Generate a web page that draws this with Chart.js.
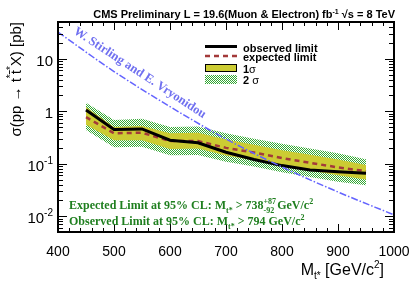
<!DOCTYPE html>
<html>
<head>
<meta charset="utf-8">
<script src="https://cdn.jsdelivr.net/npm/chart.js@4.4.1/dist/chart.umd.min.js"></script>
<style>
html, body { margin: 0; padding: 0; background: #fff; }
#wrap { width: 415px; height: 281px; }
</style>
</head>
<body>
<div id="wrap"><canvas id="c" width="415" height="281"></canvas></div>
<script>
// t* pair limit, mass in GeV/c2, cross section in pb
const masses = [450, 500, 550, 600, 650, 700, 750, 800, 850, 900, 950];
const observed = [1.05, 0.45, 0.46, 0.28, 0.25, 0.165, 0.12, 0.092, 0.076, 0.070, 0.066];
const expected = [0.77, 0.38, 0.39, 0.27, 0.27, 0.20, 0.163, 0.128, 0.104, 0.085, 0.072];
const sigma1Up = [1.2, 0.50, 0.52, 0.38, 0.39, 0.29, 0.23, 0.18, 0.148, 0.12, 0.094];
const sigma1Down = [0.55, 0.28, 0.28, 0.19, 0.195, 0.144, 0.116, 0.091, 0.074, 0.060, 0.050];
const sigma2Up = [1.45, 0.68, 0.72, 0.50, 0.51, 0.38, 0.30, 0.24, 0.195, 0.158, 0.121];
const sigma2Down = [0.44, 0.205, 0.21, 0.145, 0.147, 0.109, 0.088, 0.069, 0.056, 0.0455, 0.039];
// theory (W. Stirling and E. Vryonidou)
const theoryMass = [400, 500, 600, 700, 800, 900, 1000];
const theoryXsec = [32, 5.7, 1.22, 0.295, 0.0865, 0.0289, 0.0106];
const xTicks = [400, 500, 600, 700, 800, 900, 1000];
const yDecades = [-2, -1, 0, 1];

const SANS = '"Liberation Sans", Arial, Helvetica, sans-serif';
const SERIF = '"Liberation Serif", "Times New Roman", serif';
const GREEN_TXT = '#1f7f1f';
const YELLOW = '#cccc33';

const canvas = document.getElementById('c');
const mesh = (function () {
    const p = document.createElement('canvas');
    p.width = 2; p.height = 2;
    const g = p.getContext('2d');
    g.fillStyle = '#fff'; g.fillRect(0, 0, 2, 2);
    g.fillStyle = '#33a833';
    g.fillRect(0, 0, 1, 1); g.fillRect(1, 1, 1, 1);
    return canvas.getContext('2d').createPattern(p, 'repeat');
})();

function pts(xs, ys) { return xs.map((m, i) => ({ x: m, y: ys[i] })); }

// draw a run of text pieces: [text, font, dy, noAdvance]
function rich(ctx, x, y, parts, align) {
    let w = 0;
    parts.forEach(p => { ctx.font = p[1]; if (!p[3]) w += ctx.measureText(p[0]).width; });
    let cx = align === 'right' ? x - w : x;
    parts.forEach(p => {
        ctx.font = p[1];
        ctx.fillText(p[0], cx, y + (p[2] || 0));
        if (!p[3]) cx += ctx.measureText(p[0]).width;
    });
}

const decor = {
    id: 'decor',
    afterDatasetsDraw(chart) {
        const { ctx, chartArea: a, scales: { x, y } } = chart;
        ctx.save();
        // ticks inside the frame
        ctx.strokeStyle = '#000';
        ctx.lineWidth = 1;
        ctx.beginPath();
        for (let v = 400; v <= 1000; v += 20) {
            const px = Math.round(x.getPixelForValue(v)) + 0.5;
            const len = v % 100 === 0 ? 8 : 4;
            ctx.moveTo(px, a.bottom); ctx.lineTo(px, a.bottom - len);
            ctx.moveTo(px, a.top); ctx.lineTo(px, a.top + len);
        }
        for (let d = -3; d <= 1; d++) {
            for (let m = 1; m <= 9; m++) {
                const v = m * Math.pow(10, d);
                if (v < y.min || v > y.max) continue;
                const py = Math.round(y.getPixelForValue(v)) + 0.5;
                const len = m === 1 ? 9 : 5;
                ctx.moveTo(a.left, py); ctx.lineTo(a.left + len, py);
                ctx.moveTo(a.right, py); ctx.lineTo(a.right - len, py);
            }
        }
        ctx.stroke();
        ctx.lineWidth = 2;
        ctx.strokeRect(a.left, a.top, a.right - a.left, a.bottom - a.top);

        // y tick labels
        ctx.fillStyle = '#000';
        ctx.textBaseline = 'alphabetic';
        const F = '15px ' + SANS, Fs = '10px ' + SANS;
        yDecades.forEach(d => {
            const py = y.getPixelForValue(Math.pow(10, d));
            let parts;
            if (d === 0) parts = [['1', F]];
            else if (d === 1) parts = [['10', F]];
            else parts = [['10', F], ['-' + (-d), Fs, -7]];
            rich(ctx, 53, py + 7, parts, 'right');
        });

        // axis titles
        rich(ctx, 384, 275, [['M', '16px ' + SANS], ['t*', '10px ' + SANS, 4], [' [GeV/c', '16px ' + SANS], ['2', '10px ' + SANS, -7], [']', '16px ' + SANS]], 'right');
        ctx.save();
        ctx.translate(21, 22);
        ctx.rotate(-Math.PI / 2);
        const T = '15px ' + SANS, Ts = '10px ' + SANS;
        rich(ctx, 0, 0, [['σ(pp → t', T], ['*', Ts, -7], ['t\u0304', T], ['*', Ts, -7], ['X) [pb]', T]], 'right');
        ctx.restore();

        // header
        rich(ctx, 395, 18, [['CMS Preliminary L = 19.6(Muon & Electron) fb', 'bold 11px ' + SANS], ['-1', 'bold 7px ' + SANS, -4], [' \u221As = 8 TeV', 'bold 11px ' + SANS]], 'right');

        // legend
        ctx.lineWidth = 3; ctx.strokeStyle = '#000';
        ctx.beginPath(); ctx.moveTo(205, 46.5); ctx.lineTo(237, 46.5); ctx.stroke();
        ctx.lineWidth = 2.5; ctx.strokeStyle = '#a33a3a'; ctx.setLineDash([5, 4]);
        ctx.beginPath(); ctx.moveTo(205, 56); ctx.lineTo(237, 56); ctx.stroke();
        ctx.setLineDash([]);
        ctx.fillStyle = YELLOW; ctx.fillRect(205, 64, 32, 8);
        ctx.lineWidth = 1; ctx.strokeStyle = '#000'; ctx.strokeRect(205.5, 64.5, 31, 7);
        ctx.fillStyle = mesh; ctx.fillRect(205, 75, 32, 9);
        ctx.fillStyle = '#000';
        const L = 'bold 11px ' + SANS;
        rich(ctx, 243, 51.5, [['observed limit', L]]);
        rich(ctx, 243, 61, [['expected limit', L]]);
        rich(ctx, 243, 72.5, [['1', L], ['\u03c3', '11px ' + SANS]]);
        rich(ctx, 243, 83.5, [['2 ', L], ['\u03c3', '11px ' + SANS]]);

        // limit statements
        ctx.fillStyle = GREEN_TXT;
        const G = 'bold 12px ' + SERIF, Gs = 'bold 8px ' + SERIF;
        rich(ctx, 69, 208.5, [['Expected Limit at 95% CL: M', G], ['t*', Gs, 4], [' > 738', G], ['+87', Gs, -5, true], ['-92', Gs, 4], [' GeV/c', G], ['2', Gs, -5]]);
        rich(ctx, 69, 225, [['Observed Limit at 95% CL: M', G], ['t*', Gs, 4], [' > 794 GeV/c', G], ['2', Gs, -5]]);

        // theory label along the curve, fitted to ~158 px
        const label = 'W. Stirling and E. Vryonidou';
        ctx.font = 'bold 12px ' + SERIF;
        const size = 12 * 156 / ctx.measureText(label).width;
        ctx.save();
        ctx.translate(73, 33);
        ctx.rotate(Math.atan2(86, 131));
        ctx.fillStyle = '#7070f0';
        ctx.font = 'bold ' + size.toFixed(1) + 'px ' + SERIF;
        ctx.fillText(label, 0, 0);
        ctx.restore();

        ctx.restore();
    }
};

const hidden = 'rgba(0,0,0,0)';
new Chart(canvas, {
    type: 'line',
    data: {
        datasets: [
            { label: '2 sigma up', data: pts(masses, sigma2Up), borderColor: hidden, borderWidth: 0, pointRadius: 0, backgroundColor: mesh, fill: '+1', order: 8 },
            { label: '2 sigma down', data: pts(masses, sigma2Down), borderColor: hidden, borderWidth: 0, pointRadius: 0, fill: false, order: 7 },
            { label: '1 sigma up', data: pts(masses, sigma1Up), borderColor: hidden, borderWidth: 0, pointRadius: 0, backgroundColor: YELLOW, fill: '+1', order: 6 },
            { label: '1 sigma down', data: pts(masses, sigma1Down), borderColor: hidden, borderWidth: 0, pointRadius: 0, fill: false, order: 5 },
            { label: 'expected limit', data: pts(masses, expected), borderColor: '#a33a3a', borderWidth: 2.5, borderDash: [5, 4], pointRadius: 0, fill: false, order: 3 },
            { label: 'observed limit', data: pts(masses, observed), borderColor: '#000', borderWidth: 3, pointRadius: 0, fill: false, order: 2 },
            { label: 'theory', data: pts(theoryMass, theoryXsec), borderColor: '#6464ff', borderWidth: 1.5, borderDash: [7, 2, 1.5, 2], cubicInterpolationMode: 'monotone', pointRadius: 0, fill: false, order: 1 }
        ]
    },
    options: {
        responsive: false,
        animation: false,
        devicePixelRatio: 1,
        layout: { padding: { top: 22, right: 21, left: 0, bottom: 0 } },
        plugins: { legend: { display: false }, tooltip: { enabled: false }, title: { display: false } },
        scales: {
            x: {
                type: 'linear', min: 400, max: 1000,
                afterBuildTicks: s => { s.ticks = xTicks.map(v => ({ value: v })); },
                ticks: { font: { family: SANS, size: 14 }, color: '#000', padding: 4, maxRotation: 0, autoSkip: false, callback: v => String(v) },
                grid: { display: false }, border: { display: false },
                afterFit: s => { s.height = 49; }
            },
            y: {
                type: 'logarithmic', min: 0.005, max: 50,
                ticks: { display: false },
                grid: { display: false }, border: { display: false },
                afterFit: s => { s.width = 58; }
            }
        }
    },
    plugins: [decor]
});
</script>
</body>
</html>
